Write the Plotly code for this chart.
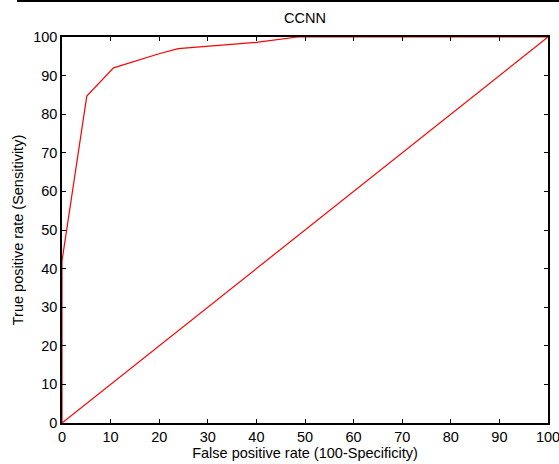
import plotly.graph_objects as go

fpr = [0, 0, 5.1, 10.6, 19.8, 23.9, 40, 48.5, 100, 0]
tpr = [0, 42, 84.7, 92.0, 95.6, 97.0, 98.6, 100, 100, 0]
ticks = [0, 10, 20, 30, 40, 50, 60, 70, 80, 90, 100]

fig = go.Figure()
fig.add_trace(go.Scatter(x=fpr, y=tpr, mode="lines",
                         line=dict(color="#ff0000", width=1.2), showlegend=False))

font = dict(family="Liberation Sans, Arial, sans-serif", size=14.5, color="#000")
axis = dict(range=[0, 100], tickvals=ticks, ticks="inside", ticklen=4, tickwidth=1,
            tickcolor="#000", showline=True, linecolor="#000", linewidth=1.5,
            mirror="allticks", showgrid=False, zeroline=False, tickfont=font,
            automargin=False, ticklabeloverflow="allow")

fig.update_layout(
    width=559, height=464,
    margin=dict(l=62, r=11, t=37, b=41),
    paper_bgcolor="white", plot_bgcolor="white",
    title=dict(text="CCNN", x=0.5, xref="paper", y=1 - 18 / 464, yanchor="middle",
               automargin=False, font=font),
    xaxis=dict(axis, title=dict(text="False positive rate (100-Specificity)", font=font, standoff=4)),
    yaxis=dict(axis, title=dict(text="True positive rate (Sensitivity)", font=font, standoff=6)),
    shapes=[dict(type="line", xref="paper", yref="paper", x0=-45 / 486, x1=497 / 486,
                 y0=1 + 36 / 386, y1=1 + 36 / 386, line=dict(color="#000", width=2))],
)

fig.write_html("out.html", config={"displayModeBar": False},
               post_script="document.body.style.margin='0px';")
